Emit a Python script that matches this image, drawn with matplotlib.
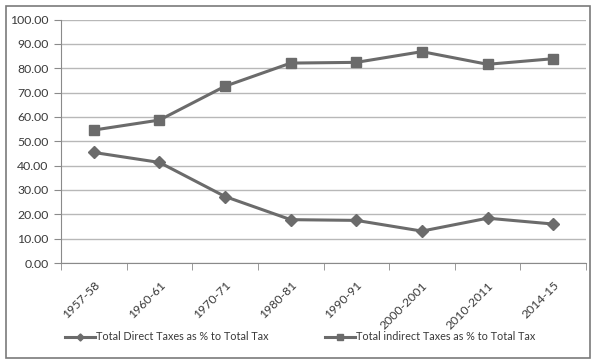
import matplotlib.pyplot as plt
import matplotlib.patches as mpatches
import numpy as np

# data
years = ["1957-58", "1960-61", "1970-71", "1980-81", "1990-91", "2000-2001", "2010-2011", "2014-15"]
direct = [45.4, 41.3, 27.3, 17.8, 17.5, 13.1, 18.4, 16.0]
indirect = [54.6, 58.7, 72.6, 82.1, 82.4, 86.8, 81.6, 83.9]

plt.rcParams['font.family'] = ['Lato', 'DejaVu Sans']

fig = plt.figure(figsize=(5.91, 3.59), dpi=100)
ax = fig.add_axes([61 / 591, 1 - 263 / 359, (586 - 61) / 591, (263 - 19.5) / 359])

x = np.arange(len(years))
line_col = "#6b6b6b"
ax.plot(x, direct, color=line_col, lw=2.2, marker="D", ms=6, label="Total Direct Taxes as % to Total Tax")
ax.plot(x, indirect, color=line_col, lw=2.2, marker="s", ms=7, label="Total indirect Taxes as % to Total Tax")

ax.set_xlim(-0.5, len(years) - 0.5)
ax.set_ylim(0, 100)
ax.set_yticks(np.arange(0, 101, 10))
ax.set_yticklabels([f"{v:.2f}" for v in np.arange(0, 101, 10)])
ax.yaxis.grid(True, color="#b8b8b8", lw=1)
ax.set_axisbelow(True)

ax.set_xticks(x)
ax.set_xticklabels(years, rotation=45, ha="right", rotation_mode="anchor")
ax.set_xticks(np.arange(-0.5, len(years)), minor=True)
ax.tick_params(axis="x", which="major", length=0, pad=12)
ax.tick_params(axis="x", which="minor", length=5, color="#8a8a8a")
ax.tick_params(axis="y", length=5, color="#8a8a8a", pad=4)
ax.tick_params(labelsize=8.8, labelcolor="#3a3a3a")

for s in ["top", "right"]:
    ax.spines[s].set_visible(False)
for s in ["left", "bottom"]:
    ax.spines[s].set_color("#8a8a8a")

fig.legend(loc="center", bbox_to_anchor=(300 / 591, 1 - 337 / 359), ncol=2, frameon=False,
           fontsize=7.8, labelcolor="#3a3a3a", columnspacing=5.2, handlelength=2.8, handletextpad=0.1,
           markerscale=0.6)

# outer chart border
fig.patches.append(mpatches.Rectangle((6 / 591, 1 / 359), 584 / 591, 352 / 359,
                                      transform=fig.transFigure, fill=False,
                                      edgecolor="#7a7a7a", lw=1.2))

fig.savefig("out.png", dpi=100)
